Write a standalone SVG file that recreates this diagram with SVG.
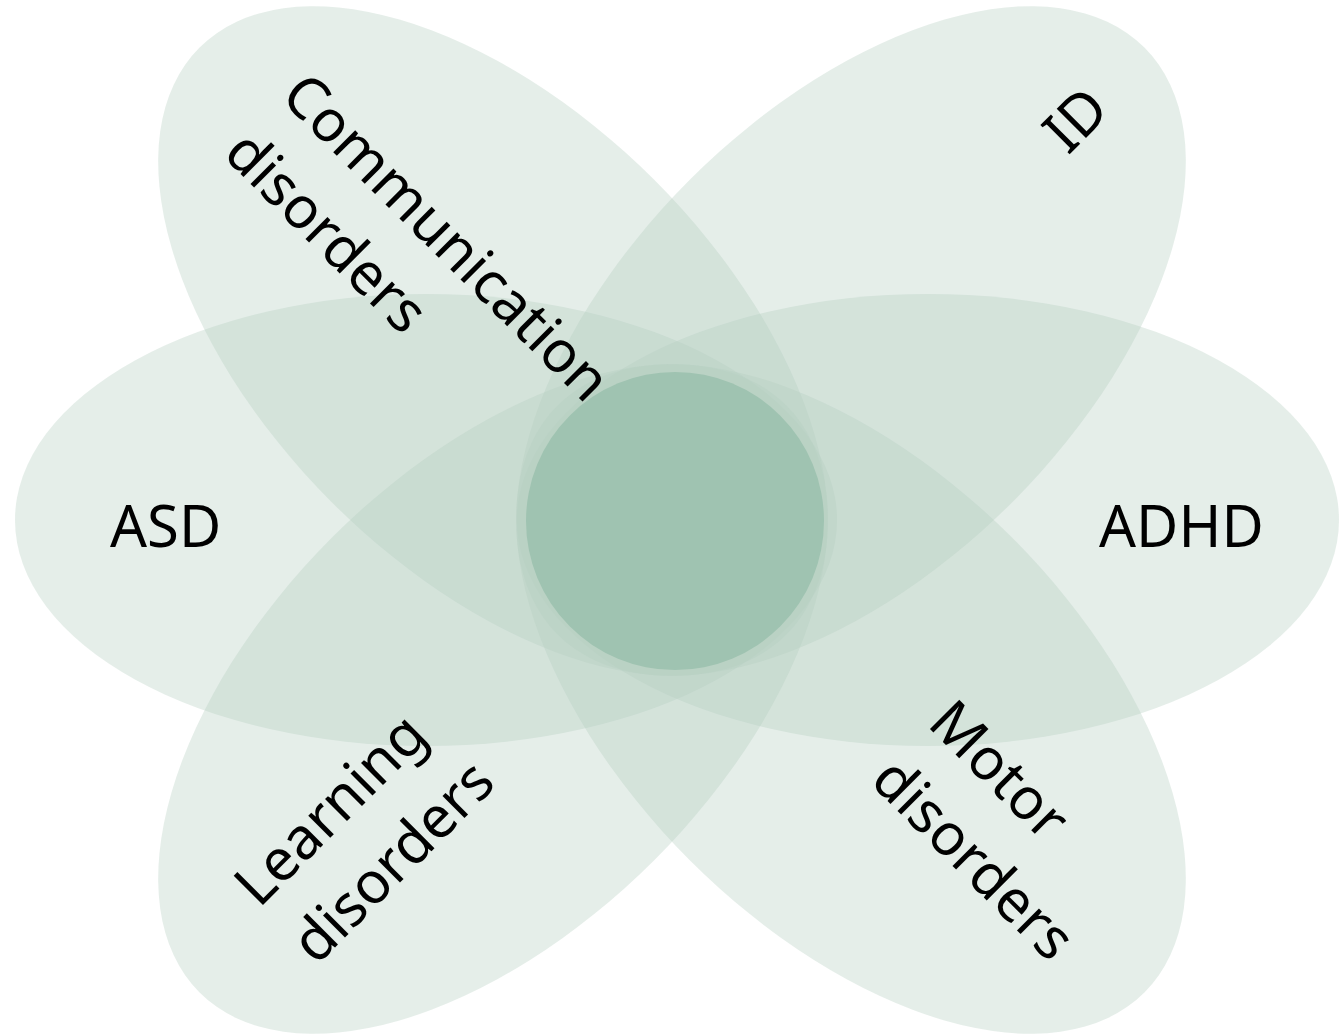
<svg xmlns="http://www.w3.org/2000/svg" width="1342" height="1036" viewBox="0 0 1342 1036">
  <style>
    .petal { fill: #b4cebf; fill-opacity: 0.35; stroke: none; }
    .core { fill: #9fc3b1; stroke: none; }
    .lbl { font-family: "Noto Sans", "Open Sans", sans-serif; font-size: 58px; fill: #000000; }
  </style>
  <rect width="1342" height="1036" fill="#ffffff"/>
  <g id="ellipses">
    <g id="node-asd"><ellipse class="petal" cx="426" cy="520" rx="411" ry="226"/></g>
    <g id="node-adhd"><ellipse class="petal" cx="928" cy="520" rx="411" ry="226"/></g>
    <g id="node-communication"><ellipse class="petal" cx="0" cy="0" rx="415" ry="228" transform="translate(493,341) rotate(45)"/></g>
    <g id="node-motor"><ellipse class="petal" cx="0" cy="0" rx="415" ry="228" transform="translate(851,699) rotate(45)"/></g>
    <g id="node-id"><ellipse class="petal" cx="0" cy="0" rx="415" ry="228" transform="translate(851,341) rotate(-45)"/></g>
    <g id="node-learning"><ellipse class="petal" cx="0" cy="0" rx="415" ry="228" transform="translate(493,699) rotate(-45)"/></g>
    <g id="node-core"><circle class="core" cx="675" cy="521" r="149"/></g>
  </g>
  <g id="connectors"></g>
  <g id="labels">
    <text class="lbl" x="110" y="547">ASD</text>
    <text class="lbl" x="1099" y="547">ADHD</text>
    <g transform="translate(279,98) rotate(45)">
      <text class="lbl" x="0" y="0">Communication</text>
      <text class="lbl" x="0" y="81">disorders</text>
    </g>
    <g transform="translate(1068,156) rotate(-45)">
      <text class="lbl" x="0" y="0">ID</text>
    </g>
    <g transform="translate(259,909) rotate(-45)">
      <text class="lbl" x="0" y="0">Learning</text>
      <text class="lbl" x="0" y="81">disorders</text>
    </g>
    <g transform="translate(926,725) rotate(45)">
      <text class="lbl" x="0" y="0">Motor</text>
      <text class="lbl" x="0" y="81">disorders</text>
    </g>
  </g>
</svg>
